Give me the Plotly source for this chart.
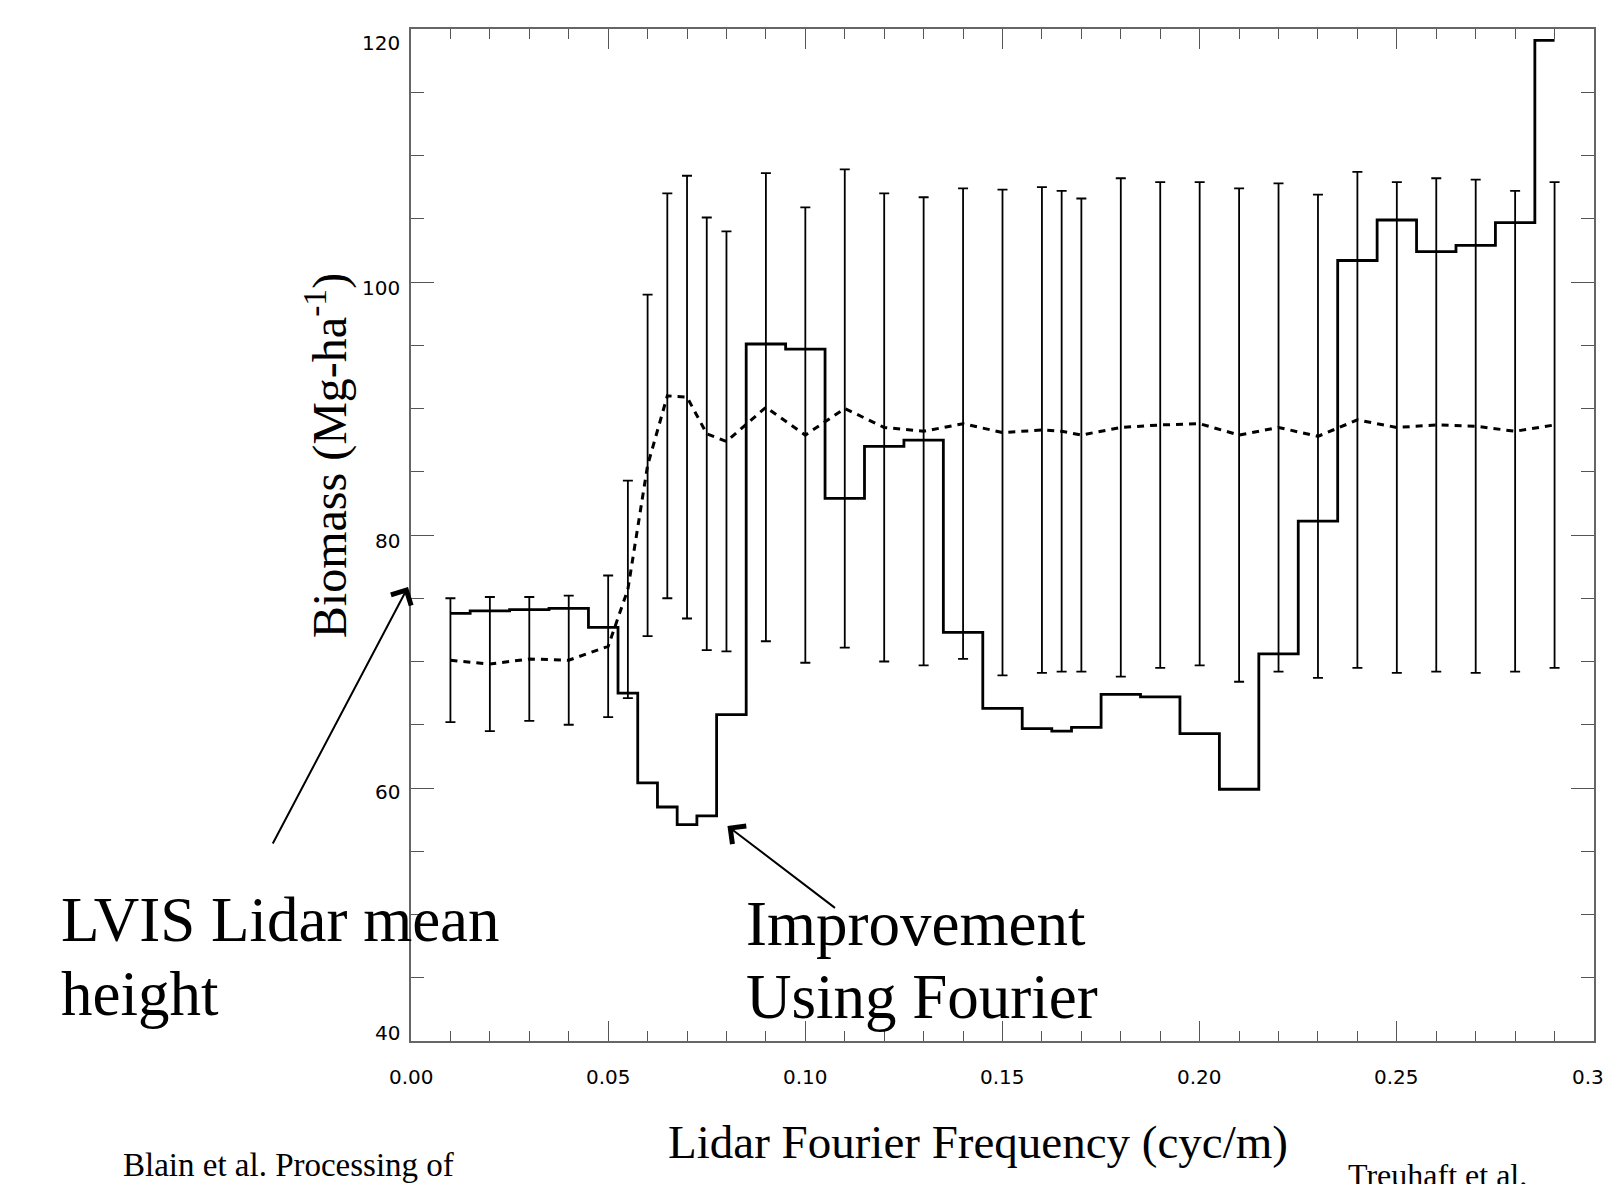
import plotly.graph_objects as go

# Lidar Fourier frequency bins (cyc/m)
freq = [0.01, 0.02, 0.03, 0.04, 0.05, 0.055, 0.06, 0.065, 0.07, 0.075, 0.08,
        0.09, 0.10, 0.11, 0.12, 0.13, 0.14, 0.15, 0.16, 0.165, 0.17, 0.18,
        0.19, 0.20, 0.21, 0.22, 0.23, 0.24, 0.25, 0.26, 0.27, 0.28, 0.29]

# Biomass error using Fourier lidar profiles (solid step curve)
fourier_biomass = [73.8, 74.0, 74.1, 74.2, 72.7, 67.5, 60.4, 58.5, 57.1, 57.8, 65.8,
                   95.1, 94.7, 82.9, 87.0, 87.5, 72.3, 66.3, 64.7, 64.5, 64.8, 67.4,
                   67.2, 64.3, 59.9, 70.6, 81.1, 101.7, 104.9, 102.4, 102.9, 104.7, 119.1]

# LVIS mean-height biomass (dashed curve) and its spread (error bars)
mean_height_biomass = [70.1, 69.8, 70.2, 70.1, 71.2, 75.7, 85.5, 91.0, 90.9, 88.0, 87.4,
                       90.1, 87.9, 90.0, 88.5, 88.2, 88.8, 88.1, 88.3, 88.2, 87.9, 88.5,
                       88.7, 88.8, 87.9, 88.5, 87.8, 89.1, 88.5, 88.7, 88.6, 88.2, 88.7]
sigma = [4.9, 5.3, 4.9, 5.1, 5.6, 8.6, 13.5, 16.0, 17.5, 17.1, 16.6,
         18.5, 18.0, 18.9, 18.5, 18.5, 18.6, 19.2, 19.2, 19.0, 18.7, 19.7,
         19.2, 19.1, 19.5, 19.3, 19.1, 19.6, 19.4, 19.5, 19.5, 19.0, 19.2]

x_ticks = [0.00, 0.05, 0.10, 0.15, 0.20, 0.25, 0.30]
y_ticks = [40, 60, 80, 100, 120]
y_tick_shift = [8, -4, -6, -6, -14]

x_title = "Lidar Fourier Frequency (cyc/m)"
y_title = "Biomass (Mg-ha<sup>-1</sup>)"
note_lvis = ["LVIS Lidar mean", "height"]
note_fourier = ["Improvement", "Using Fourier"]
credit_left = "Blain et al. Processing of"
credit_right = "Treuhaft et al."

W, H = 1604, 1184
ML, MR, MT, MB = 411, 8, 29, 143
PW, PH = W - ML - MR, H - MT - MB

SERIF = "Liberation Serif, Times New Roman, serif"
SANS = "DejaVu Sans, sans-serif"
TICK_FONT = dict(family=SANS, size=20, color="black")


def px_x(px):
    return (px - ML) / PW


def px_y(py):
    return (H - MB - py) / PH


fig = go.Figure()

fig.add_trace(go.Scatter(
    x=freq, y=mean_height_biomass, mode="lines",
    line=dict(color="black", width=3, dash="7px,6px"),
    error_y=dict(type="data", array=sigma, symmetric=True,
                 color="black", thickness=1.8, width=5),
    showlegend=False, hoverinfo="skip",
))

fig.add_trace(go.Scatter(
    x=freq, y=fourier_biomass, mode="lines",
    line=dict(color="black", width=2.8, shape="hvh"),
    showlegend=False, hoverinfo="skip",
))

axis_common = dict(
    showgrid=False, zeroline=False, showline=True,
    linecolor="#666666", linewidth=1.5,
    mirror="ticks", ticks="inside", tickcolor="#555555", tickwidth=1.2,
)

fig.update_xaxes(
    range=[0, 0.30], tickvals=x_ticks, ticklen=20,
    minor=dict(dtick=0.01, ticks="inside", ticklen=10, tickcolor="#555555", tickwidth=1.2),
    showticklabels=False,
    **axis_common,
)
fig.update_yaxes(
    range=[40, 120], tickvals=y_ticks, ticklen=23,
    minor=dict(dtick=5, ticks="inside", ticklen=13, tickcolor="#555555", tickwidth=1.2),
    showticklabels=False,
    **axis_common,
)

annotations = []

# x tick labels
for v in x_ticks:
    annotations.append(dict(
        x=v, y=px_y(1077), xref="x", yref="paper", text=f"{v:.2f}",
        showarrow=False, xanchor="center", yanchor="middle",
        font=TICK_FONT,
    ))

# y tick labels
for v, s in zip(y_ticks, y_tick_shift):
    annotations.append(dict(
        x=px_x(402), y=v, xref="paper", yref="y", text=str(v),
        showarrow=False, xanchor="right", yanchor="middle", yshift=s,
        font=TICK_FONT,
    ))

# axis titles
annotations.append(dict(
    x=px_x(979), y=px_y(1142), xref="paper", yref="paper", text=x_title,
    showarrow=False, xanchor="center", yanchor="middle",
    font=dict(family=SERIF, size=47, color="black"),
))
annotations.append(dict(
    x=px_x(326), y=px_y(456), xref="paper", yref="paper", text=y_title,
    showarrow=False, textangle=-90, xanchor="center", yanchor="middle",
    font=dict(family=SERIF, size=48, color="black"),
))

# callout texts
for line, base in zip(note_lvis, [941.7, 1015]):
    annotations.append(dict(
        x=px_x(58), y=px_y(base - 0.3375 * 63), xref="paper", yref="paper",
        text=line, showarrow=False, xanchor="left", yanchor="middle",
        font=dict(family=SERIF, size=63, color="black"),
    ))
for line, base in zip(note_fourier, [945, 1018]):
    annotations.append(dict(
        x=px_x(745), y=px_y(base - 0.3375 * 63), xref="paper", yref="paper",
        text=line, showarrow=False, xanchor="left", yanchor="middle",
        font=dict(family=SERIF, size=63, color="black"),
    ))

# arrows
annotations.append(dict(
    x=px_x(408), y=px_y(587), xref="paper", yref="paper", text="",
    showarrow=True, ax=-136, ay=258, arrowhead=4, arrowsize=2.2,
    arrowwidth=2, arrowcolor="black",
))
annotations.append(dict(
    x=px_x(728), y=px_y(826), xref="paper", yref="paper", text="",
    showarrow=True, ax=109, ay=83, arrowhead=4, arrowsize=2.2,
    arrowwidth=2, arrowcolor="black",
))

# credits along the bottom
annotations.append(dict(
    x=px_x(121), y=px_y(1176 - 0.3375 * 33), xref="paper", yref="paper",
    text=credit_left, showarrow=False, xanchor="left", yanchor="middle",
    font=dict(family=SERIF, size=33, color="black"),
))
annotations.append(dict(
    x=px_x(1348), y=px_y(1186 - 0.3375 * 32), xref="paper", yref="paper",
    text=credit_right, showarrow=False, xanchor="left", yanchor="middle",
    font=dict(family=SERIF, size=32, color="black"),
))

fig.update_layout(
    width=W, height=H,
    margin=dict(l=ML, r=MR, t=MT, b=MB, pad=0),
    paper_bgcolor="white", plot_bgcolor="white",
    annotations=annotations,
)

fig.write_html("out.html")
